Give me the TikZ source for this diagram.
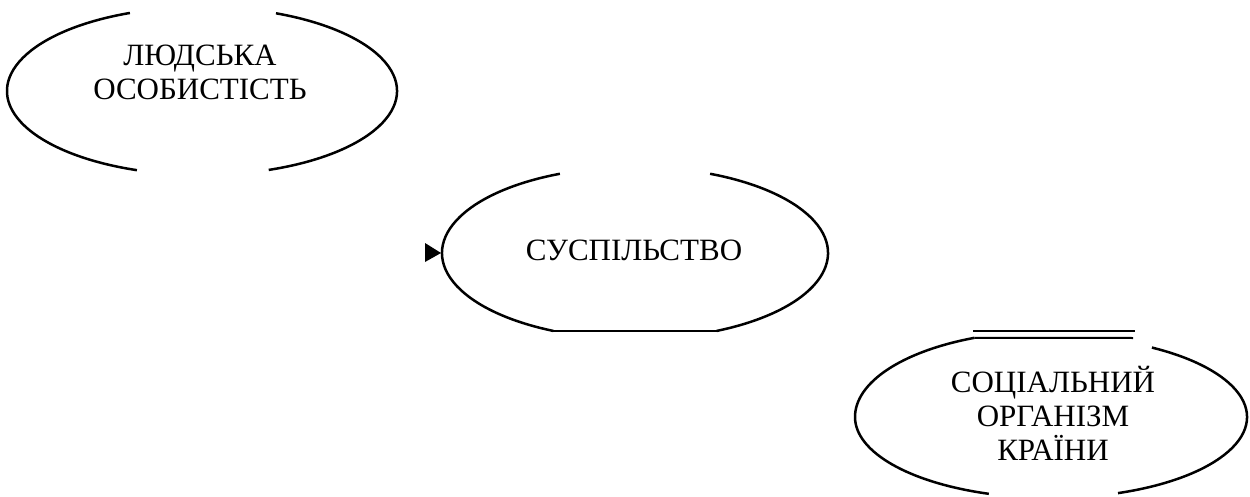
\documentclass[tikz,border=0pt]{standalone}
\usepackage{fontspec}
\setmainfont{Liberation Serif}
\begin{document}
\begin{tikzpicture}[x=1pt,y=1pt,
  outline/.style={line width=2.5pt},
  label/.style={align=center,font=\fontsize{31}{34}\selectfont,inner sep=0pt}]
\useasboundingbox (0,0) rectangle (1250,-497);
% ellipse 1: centre (202,91), a=195, b=84
\node[label] (e1) at (200,-72) {ЛЮДСЬКА\\ОСОБИСТІСТЬ};
\draw[outline] (202,-91) ++(111.7:195 and 84) arc[start angle=111.7,end angle=250.5,x radius=195,y radius=84];
\draw[outline] (202,-91) ++(-70:195 and 84) arc[start angle=-70,end angle=67.7,x radius=195,y radius=84];
% ellipse 2: centre (635,253), a=193, b=86
\node[label] (e2) at (634,-250) {СУСПІЛЬСТВО};
\draw[outline] (635,-253) ++(112.9:193 and 86) arc[start angle=112.9,end angle=245,x radius=193,y radius=86] coordinate (b2l);
\draw[outline] (635,-253) ++(-65:193 and 86) coordinate (b2r) arc[start angle=-65,end angle=67.1,x radius=193,y radius=86];
\draw[outline] (b2l) -- (b2r);
\fill (425,-243) -- (441,-253) -- (425,-262) -- cycle;
% ellipse 3: centre (1051,417), a=196, b=81
\node[label] (e3) at (1053,-413) {СОЦІАЛЬНИЙ\\ОРГАНІЗМ\\КРАЇНИ};
\draw[outline] (1051,-417) ++(113:196 and 86) coordinate (t3l) arc[start angle=113,end angle=180,x radius=196,y radius=86] arc[start angle=180,end angle=251.5,x radius=196,y radius=81];
\draw[outline] (1051,-417) ++(-70:196 and 81) arc[start angle=-70,end angle=59,x radius=196,y radius=81];
\draw[line width=2pt] (973,-331) -- (1135,-331);
\draw[line width=2pt] (t3l) -- (1133,-338);
\end{tikzpicture}
\end{document}
